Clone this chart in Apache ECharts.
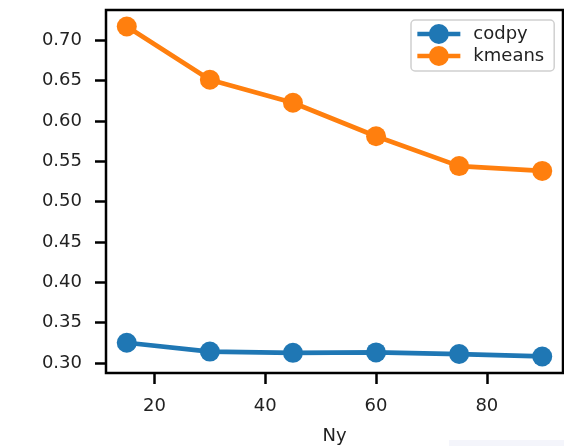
<!DOCTYPE html>
<html>
<head>
<meta charset="utf-8">
<script src="https://cdn.jsdelivr.net/npm/echarts@6/dist/echarts.min.js"></script>
<style>html,body{margin:0;padding:0;background:#fff;}#c{width:564px;height:446px;}</style>
</head>
<body>
<div id="c"></div>
<script>
var ny = [15, 30, 45, 60, 75, 90];
var codpy = [0.325, 0.314, 0.3125, 0.313, 0.311, 0.308];
var kmeans = [0.717, 0.651, 0.6225, 0.581, 0.544, 0.538];
var xTicks = [20, 40, 60, 80];
var yTicks = [0.30, 0.35, 0.40, 0.45, 0.50, 0.55, 0.60, 0.65, 0.70];

var font = 'DejaVu Sans';
function pairs(v) { return ny.map(function (x, i) { return [x, v[i]]; }); }

var chart = echarts.init(document.getElementById('c'), null, {renderer: 'canvas'});
chart.setOption({
  animation: false,
  backgroundColor: '#fff',
  grid: {left: 106, top: 10, right: 1, bottom: 73, show: true, borderColor: '#000', borderWidth: 2.5,
    backgroundColor: 'transparent', containLabel: false, outerBoundsMode: 'none'},
  xAxis: {
    type: 'value', min: 11.25, max: 93.75,
    name: 'Ny', nameLocation: 'middle', nameGap: 54,
    nameTextStyle: {fontFamily: font, fontSize: 18, color: '#222'},
    axisLine: {show: false},
    splitLine: {show: false},
    axisTick: {show: true, length: 11, lineStyle: {color: '#000', width: 2.5}, customValues: xTicks},
    axisLabel: {fontFamily: font, fontSize: 18, color: '#222', margin: 24, customValues: xTicks}
  },
  yAxis: {
    type: 'value', min: 0.2875, max: 0.7375,
    axisLine: {show: false},
    splitLine: {show: false},
    axisTick: {show: true, length: 11, lineStyle: {color: '#000', width: 2.5}, customValues: yTicks},
    axisLabel: {fontFamily: font, fontSize: 18, color: '#222', margin: 24,
      customValues: yTicks, formatter: function (v) { return v.toFixed(2); }}
  },
  legend: {
    orient: 'vertical', left: 411, top: 20,
    padding: [4, 10, 5, 4],
    itemWidth: 43, itemHeight: 25, itemGap: 2,
    backgroundColor: 'rgba(255,255,255,0.8)',
    borderColor: '#d0d0d0', borderWidth: 1.5, borderRadius: 4,
    lineStyle: {width: 4.7},
    textStyle: {fontFamily: font, fontSize: 18, color: '#222', padding: [0, 0, 0, 8]},
    data: ['codpy', 'kmeans']
  },
  series: [
    {name: 'codpy', type: 'line', data: pairs(codpy), color: '#1f77b4',
      symbol: 'circle', symbolSize: 20, lineStyle: {width: 4.7}, itemStyle: {color: '#1f77b4'}},
    {name: 'kmeans', type: 'line', data: pairs(kmeans), color: '#ff7f0e',
      symbol: 'circle', symbolSize: 20, lineStyle: {width: 4.7}, itemStyle: {color: '#ff7f0e'}}
  ],
  graphic: [
    {type: 'rect', left: 449, top: 440, shape: {width: 115, height: 6}, style: {fill: '#f4f5fb'}, silent: true}
  ]
});
</script>
</body>
</html>
